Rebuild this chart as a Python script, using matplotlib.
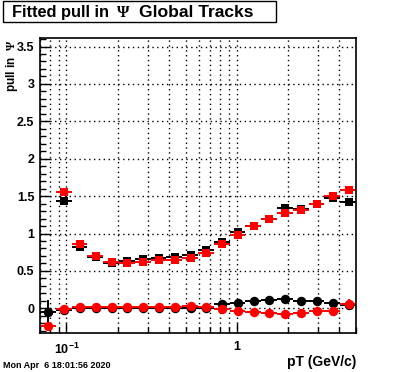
import matplotlib
matplotlib.use("Agg")
import matplotlib.pyplot as plt
import numpy as np
from matplotlib.patches import Rectangle
from matplotlib.ticker import FixedLocator, FixedFormatter, LogLocator, MultipleLocator, NullFormatter

plt.rcParams['font.family'] = 'Liberation Sans'
plt.rcParams['font.weight'] = 'bold'
plt.rcParams['mathtext.fontset'] = 'custom'
plt.rcParams['mathtext.bf'] = 'Liberation Sans:bold'
plt.rcParams['mathtext.rm'] = 'Liberation Serif'
plt.rcParams['mathtext.default'] = 'bf'

binEdges = [0.070, 0.0867, 0.1073, 0.1328, 0.1644, 0.2035, 0.2519, 0.3118, 0.3860, 0.4778,
            0.5915, 0.7322, 0.9064, 1.122, 1.389, 1.719, 2.129, 2.635, 3.262, 4.038, 5.0]

# breedte (sigma) van de pull, vanaf de tweede bin
sigmaZwart = [1.434, 0.815, 0.68, 0.612, 0.635, 0.657, 0.667, 0.68, 0.712, 0.78,
              0.886, 1.016, 1.105, 1.20, 1.337, 1.332, 1.398, 1.479, 1.425]
sigmaRood = [1.555, 0.858, 0.697, 0.62, 0.612, 0.623, 0.648, 0.642, 0.677, 0.743,
             0.856, 0.976, 1.096, 1.198, 1.278, 1.318, 1.398, 1.501, 1.586]
sigmaZwartErr = [0.02, 0.015, 0.01, 0.01, 0.01, 0.01, 0.01, 0.01, 0.01, 0.01,
                 0.01, 0.01, 0.01, 0.01, 0.015, 0.015, 0.02, 0.025, 0.04]
sigmaRoodErr = [0.02, 0.015, 0.01, 0.01, 0.01, 0.01, 0.01, 0.01, 0.01, 0.01,
                0.01, 0.01, 0.01, 0.01, 0.015, 0.015, 0.02, 0.025, 0.05]

# gemiddelde van de pull, alle bins
gemZwart = [-0.053, -0.023, 0.004, 0.0, 0.003, 0.003, 0.003, 0.001, -0.002, 0.0,
            0.008, 0.057, 0.067, 0.098, 0.111, 0.124, 0.098, 0.098, 0.071, 0.04]
gemRood = [-0.232, -0.003, 0.012, 0.012, 0.012, 0.014, 0.014, 0.012, 0.014, 0.028,
           0.013, -0.013, -0.036, -0.054, -0.067, -0.08, -0.067, -0.036, -0.033, 0.053]
gemZwartErr = [0.16, 0.02, 0.01, 0.01, 0.01, 0.01, 0.01, 0.01, 0.01, 0.01,
               0.01, 0.01, 0.01, 0.01, 0.015, 0.015, 0.02, 0.025, 0.03, 0.06]
gemRoodErr = [0.05, 0.02, 0.01, 0.01, 0.01, 0.01, 0.01, 0.01, 0.01, 0.01,
              0.01, 0.01, 0.01, 0.01, 0.015, 0.015, 0.02, 0.025, 0.03, 0.07]

randen = np.array(binEdges)
midden = (randen[:-1] + randen[1:]) / 2
xErr = np.array([midden - randen[:-1], randen[1:] - midden])

fig = plt.figure(figsize=(3.96, 3.72), dpi=100)
ax = fig.add_axes([40 / 396, 39 / 372, 316 / 396, 295 / 372])


def tekenReeks(x, xe, y, ye, kleur, marker, grootte):
    ax.errorbar(x, y, xerr=xe, yerr=ye, fmt=marker, color=kleur, ecolor=kleur,
                markersize=grootte, elinewidth=1.4, capsize=0, markeredgewidth=0)


tekenReeks(midden[1:], xErr[:, 1:], sigmaZwart, sigmaZwartErr, 'black', 's', 6.3)
tekenReeks(midden[1:], xErr[:, 1:], sigmaRood, sigmaRoodErr, 'red', 's', 6.3)
tekenReeks(midden, xErr, gemZwart, gemZwartErr, 'black', 'o', 6.8)
tekenReeks(midden, xErr, gemRood, gemRoodErr, 'red', 'o', 6.8)

ax.set_xscale('log')
ax.set_xlim(0.07, 5.0)
ax.set_ylim(-0.33, 3.614)

ax.xaxis.set_major_locator(FixedLocator([0.1, 1.0]))
ax.xaxis.set_major_formatter(FixedFormatter([r'$10^{-1}$', '1']))
ax.xaxis.set_minor_locator(LogLocator(base=10, subs=np.arange(2, 10)))
ax.xaxis.set_minor_formatter(NullFormatter())
ax.yaxis.set_major_locator(MultipleLocator(0.5))
ax.yaxis.set_minor_locator(MultipleLocator(0.1))
ax.yaxis.set_major_formatter(plt.FuncFormatter(lambda v, p: f"{v:g}"))

ax.tick_params(axis='both', which='major', direction='in', length=7, width=1, labelsize=9, pad=4)
ax.tick_params(axis='both', which='minor', direction='in', length=4, width=1)
ax.tick_params(axis='x', which='major', pad=6)

ax.grid(True, which='both', axis='x', color='black', linestyle=(0, (1, 2.5)), linewidth=1)
ax.grid(True, which='major', axis='y', color='black', linestyle=(0, (1, 2.5)), linewidth=1)
ax.set_axisbelow(True)
for spine in ax.spines.values():
    spine.set_linewidth(1.2)

# titel in een kader, zoals ROOT dat doet
fig.add_artist(Rectangle((3 / 396, 1 - 22 / 372), 273 / 396, 21 / 372, transform=fig.transFigure,
                         facecolor='white', edgecolor='black', linewidth=1))
titelY = 1 - 16.7 / 372
fig.text(12 / 396, titelY, "Fitted pull in", fontsize=11.8, va='baseline')
fig.text(116 / 396, titelY, r"$\mathrm{\Psi}$", fontsize=11.5, va='baseline')
fig.text(139 / 396, titelY, "Global Tracks", fontsize=12.6, va='baseline')

fig.text(12 / 396, 1 - 40 / 372, r"pull in  $\mathrm{\Psi}$", rotation=90, fontsize=8.5,
         ha='center', va='top')
fig.text(356 / 396, 1 - 362 / 372, "pT (GeV/c)", fontsize=10, ha='right', va='center')
fig.text(3 / 396, 1 - 366 / 372, "Mon Apr  6 18:01:56 2020", fontsize=6.5, ha='left', va='center')

fig.savefig("out.png", dpi=100)
